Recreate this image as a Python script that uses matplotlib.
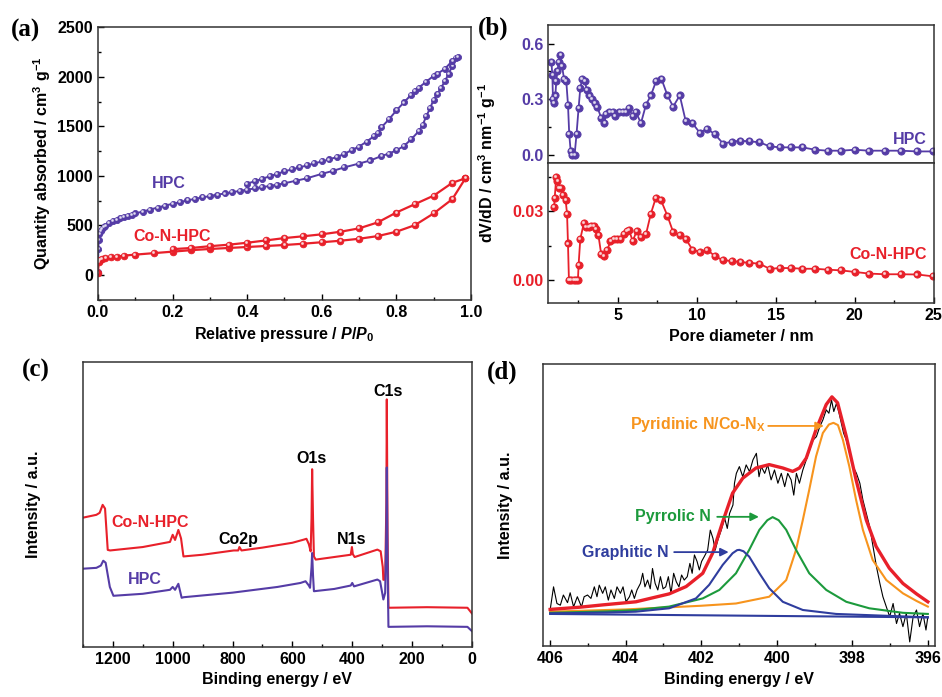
import matplotlib
matplotlib.use("Agg")
import matplotlib.pyplot as plt
import matplotlib.transforms as mtransforms
from matplotlib.ticker import MultipleLocator

plt.rcParams['font.family'] = 'Liberation Sans'
plt.rcParams['font.weight'] = 'bold'
plt.rcParams['axes.labelweight'] = 'bold'
plt.rcParams['mathtext.fontset'] = 'custom'
plt.rcParams['mathtext.rm'] = 'Liberation Sans:bold'
plt.rcParams['mathtext.it'] = 'Liberation Sans:italic:bold'
plt.rcParams['mathtext.bf'] = 'Liberation Sans:bold'
plt.rcParams['mathtext.default'] = 'rm'

PURPLE = '#553ca6'
RED = '#e8202a'

# ---- (a) N2 isotherms ----
hpc_ads_p = [0.0, 0.0005, 0.001, 0.002, 0.004, 0.007, 0.01, 0.015, 0.02, 0.03, 0.04, 0.05,
             0.06, 0.07, 0.08, 0.09, 0.10, 0.12, 0.14, 0.16, 0.18, 0.20, 0.22, 0.24, 0.26,
             0.28, 0.30, 0.32, 0.34, 0.36, 0.38, 0.40, 0.42, 0.44, 0.46, 0.48, 0.50, 0.53,
             0.56, 0.60, 0.63, 0.66, 0.70, 0.73, 0.76, 0.78, 0.80, 0.82, 0.84, 0.86, 0.87,
             0.88, 0.89, 0.90, 0.91, 0.92, 0.93, 0.94, 0.95, 0.96]
hpc_ads_q = [30, 150, 260, 350, 410, 440, 460, 480, 495, 520, 540, 555,
             570, 582, 595, 607, 620, 640, 660, 680, 700, 718, 735, 752, 768,
             782, 796, 810, 822, 835, 848, 860, 873, 885, 898, 910, 925, 950,
             975, 1020, 1050, 1085, 1124, 1155, 1200, 1225, 1258, 1300, 1370, 1450, 1510,
             1600, 1680, 1770, 1830, 1890, 1955, 2030, 2110, 2185]
hpc_des_p = [0.965, 0.95, 0.93, 0.91, 0.90, 0.88, 0.86, 0.85, 0.84, 0.82, 0.80, 0.78, 0.76,
             0.75, 0.74, 0.72, 0.70, 0.68, 0.66, 0.64, 0.62, 0.60, 0.58, 0.56, 0.54, 0.52,
             0.50, 0.48, 0.46, 0.44, 0.42, 0.40]
hpc_des_q = [2195, 2160, 2080, 2030, 2010, 1950, 1890, 1860, 1820, 1740, 1660, 1570, 1490,
             1430, 1400, 1345, 1295, 1260, 1220, 1190, 1165, 1145, 1125, 1105, 1085, 1065,
             1045, 1020, 995, 970, 945, 922]
co_ads_p = [0.0, 0.002, 0.005, 0.01, 0.02, 0.035, 0.05, 0.07, 0.1, 0.15, 0.2, 0.25, 0.3,
            0.35, 0.4, 0.45, 0.5, 0.55, 0.6, 0.65, 0.7, 0.75, 0.8, 0.85, 0.9, 0.95, 0.985]
co_ads_q = [20, 130, 150, 160, 170, 178, 185, 195, 205, 220, 235, 250, 262,
            272, 282, 292, 302, 315, 330, 345, 365, 392, 436, 503, 621, 765, 975]
co_des_p = [0.985, 0.95, 0.9, 0.85, 0.8, 0.75, 0.7, 0.65, 0.6, 0.55, 0.5, 0.45, 0.4, 0.35,
            0.3, 0.25, 0.2]
co_des_q = [975, 930, 800, 715, 630, 530, 470, 436, 410, 390, 372, 348, 325, 305,
            290, 272, 260]

# ---- (b) pore size distributions ----
hpc_d = [0.80, 0.86, 0.90, 0.97, 1.05, 1.11, 1.18, 1.26, 1.37, 1.47, 1.60, 1.74, 1.85, 1.93,
         2.02, 2.12, 2.27, 2.39, 2.52, 2.63, 2.75, 2.90, 3.05, 3.21, 3.36, 3.53, 3.70, 3.95,
         4.16, 4.26, 4.47, 4.68, 4.83, 5.11, 5.32, 5.53, 5.69, 5.95, 6.16, 6.47, 6.79, 7.10,
         7.44, 7.77, 8.15, 8.51, 8.93, 9.31, 9.73, 10.19, 10.67, 11.16, 11.68, 12.21, 12.77,
         13.34, 13.97, 14.62, 15.29, 15.99, 16.70, 17.50, 18.30, 19.12, 20.02, 20.92, 21.91,
         22.92, 23.97, 24.96]
hpc_dv = [0.50, 0.43, 0.30, 0.28, 0.32, 0.40, 0.45, 0.50, 0.54, 0.48, 0.41, 0.40, 0.27, 0.11,
          0.02, 0.00, 0.00, 0.11, 0.25, 0.36, 0.41, 0.40, 0.35, 0.32, 0.30, 0.28, 0.26, 0.20,
          0.17, 0.22, 0.23, 0.23, 0.21, 0.23, 0.23, 0.23, 0.25, 0.21, 0.23, 0.17, 0.27, 0.32,
          0.40, 0.41, 0.32, 0.26, 0.32, 0.18, 0.17, 0.12, 0.14, 0.11, 0.06, 0.07, 0.076,
          0.072, 0.068, 0.045, 0.040, 0.040, 0.040, 0.027, 0.022, 0.022, 0.027, 0.022, 0.022,
          0.022, 0.018, 0.018]
co_d = [0.97, 1.01, 1.11, 1.18, 1.26, 1.39, 1.53, 1.70, 1.79, 1.85, 1.91, 2.06, 2.21, 2.35,
        2.48, 2.52, 2.63, 2.86, 3.00, 3.15, 3.32, 3.47, 3.63, 3.78, 3.95, 4.12, 4.33, 4.54,
        4.75, 4.96, 5.17, 5.38, 5.57, 5.71, 5.95, 6.20, 6.47, 6.79, 7.10, 7.42, 7.73, 8.15,
        8.51, 8.93, 9.31, 9.73, 10.19, 10.67, 11.16, 11.68, 12.21, 12.77, 13.34, 13.97, 14.62,
        15.29, 15.99, 16.70, 17.50, 18.30, 19.12, 20.02, 20.92, 21.91, 22.92, 23.97, 24.96]
co_dv = [0.032, 0.036, 0.045, 0.043, 0.040, 0.040, 0.037, 0.035, 0.029, 0.016, 0.000, 0.000,
         0.000, 0.000, 0.000, 0.0065, 0.018, 0.025, 0.023, 0.023, 0.0235, 0.0235, 0.0225,
         0.0195, 0.0115, 0.0104, 0.013, 0.017, 0.018, 0.018, 0.018, 0.020, 0.0215, 0.022,
         0.017, 0.0215, 0.019, 0.020, 0.029, 0.036, 0.035, 0.028, 0.021, 0.0195, 0.018,
         0.0133, 0.0123, 0.0133, 0.0104, 0.0087, 0.0084, 0.0079, 0.0076, 0.0072, 0.0050,
         0.0053, 0.0053, 0.0050, 0.0050, 0.0046, 0.0043, 0.0036, 0.0029, 0.0026, 0.0026,
         0.0025, 0.0017]

# ---- (c) XPS survey (arbitrary units) ----
co_survey_e = [1300, 1255, 1244, 1234, 1226, 1217, 1209, 1100, 1009, 1000, 992, 981, 972,
               964, 900, 796, 781, 777, 770, 700, 600, 562, 553, 545, 539, 536, 534, 531,
               528, 522, 460, 405, 401, 398, 392, 316, 305, 298, 296, 290, 286, 284.5,
               282, 279, 150, 15, 0]
co_survey_i = [45.3, 46.3, 47.0, 49.8, 48.5, 34.0, 33.8, 35.0, 36.8, 39.3, 37.5, 41.0, 38.0,
               31.7, 32.3, 33.8, 33.8, 35.0, 33.8, 34.8, 36.5, 37.6, 37.9, 36.0, 33.5, 45.0,
               62.3, 45.0, 31.7, 30.6, 31.5, 32.3, 35.0, 32.5, 31.5, 34.1, 33.5, 28.0, 23.5,
               23.6, 50.0, 86.8, 40.0, 13.7, 13.9, 13.7, 11.7]
hpc_survey_e = [1300, 1255, 1240, 1232, 1224, 1210, 1198, 1100, 1009, 1000, 992, 981, 970,
                963, 800, 650, 573, 556, 545, 541, 536, 534, 531, 528, 460, 405, 400, 394,
                316, 307, 300, 296, 290, 286, 284.5, 282, 279, 150, 15, 0]
hpc_survey_i = [27.4, 27.7, 28.5, 30.2, 29.5, 21.0, 17.9, 18.6, 20.0, 21.0, 20.0, 22.1, 17.2,
                17.4, 19.0, 21.0, 22.4, 23.0, 21.5, 20.7, 28.0, 32.9, 25.0, 19.5, 20.3, 21.5,
                22.4, 21.2, 23.6, 23.0, 19.0, 16.6, 18.9, 40.0, 62.9, 30.0, 7.0, 7.2, 7.0, 5.5]

# ---- (d) N1s high resolution ----
n1s_e = [406.00, 405.91, 405.82, 405.73, 405.65, 405.54, 405.47, 405.38, 405.28, 405.17,
         405.10, 405.01, 404.92, 404.83, 404.76, 404.70, 404.61, 404.54, 404.46, 404.39,
         404.30, 404.23, 404.14, 404.07, 403.99, 403.90, 403.84, 403.77, 403.70, 403.61,
         403.55, 403.49, 403.42, 403.35, 403.29, 403.22, 403.15, 403.08, 403.01, 402.94,
         402.87, 402.80, 402.73, 402.66, 402.59, 402.52, 402.45, 402.37, 402.30, 402.24,
         402.18, 402.11, 402.05, 401.99, 401.92, 401.83, 401.76, 401.69, 401.63, 401.56,
         401.47, 401.38, 401.31, 401.25, 401.16, 401.12, 401.07, 400.99, 400.90, 400.81,
         400.72, 400.63, 400.54, 400.47, 400.41, 400.32, 400.24, 400.15, 400.06, 399.97,
         399.88, 399.79, 399.71, 399.62, 399.55, 399.48, 399.40, 399.31, 399.22, 399.13,
         399.04, 398.95, 398.86, 398.78, 398.69, 398.62, 398.55, 398.49, 398.42, 398.35,
         398.29, 398.23, 398.16, 398.07, 397.98, 397.89, 397.80, 397.72, 397.63, 397.54,
         397.45, 397.36, 397.27, 397.19, 397.10, 397.01, 396.92, 396.83, 396.75, 396.66,
         396.57, 396.48, 396.39, 396.30, 396.22, 396.13, 396.05, 396.00]
n1s_raw = [12.8, 21.0, 15.1, 14.5, 18.1, 15.4, 18.9, 13.9, 17.5, 13.9,
           17.5, 18.1, 16.9, 21.0, 17.5, 21.6, 18.7, 21.0, 16.3, 19.9,
           16.9, 21.0, 18.7, 21.0, 15.7, 17.5, 19.9, 16.9, 19.9, 22.2,
           25.8, 21.0, 23.4, 20.3, 27.5, 22.2, 19.9, 24.6, 20.3, 21.0,
           24.6, 18.7, 25.8, 22.8, 21.0, 25.2, 23.4, 24.6, 29.3, 25.8,
           32.3, 30.0, 27.0, 30.0, 31.7, 34.0, 41.1, 38.2, 34.0, 37.6,
           41.1, 45.3, 41.7, 47.0, 50.0, 57.7, 61.2, 63.6, 60.0, 64.2,
           61.8, 66.0, 68.3, 60.0, 63.6, 61.2, 64.2, 58.9, 62.4, 57.7,
           61.2, 56.5, 61.2, 58.9, 53.5, 61.2, 57.7, 62.4, 66.0, 69.5,
           73.0, 74.2, 77.8, 80.1, 83.7, 82.5, 87.2, 83.1, 86.0, 82.5,
           79.0, 75.4, 73.0, 68.3, 63.6, 61.2, 57.7, 51.8, 47.0, 42.3,
           35.2, 28.1, 22.2, 17.5, 13.9, 10.4, 15.1, 8.0, 11.6, 6.9,
           11.6, 1.5, 10.4, 12.8, 6.9, 11.6, 5.7, 10.4]
env_e = [406.0, 405.2, 404.61, 403.73, 402.85, 402.40, 401.96, 401.70, 401.43, 401.17,
         400.90, 400.55, 400.20, 399.84, 399.58, 399.40, 399.22, 398.96, 398.69, 398.54,
         398.39, 398.16, 397.90, 397.63, 397.37, 397.02, 396.66, 396.30, 396.0]
env_i = [13.0, 13.8, 14.6, 15.7, 18.5, 21.1, 25.8, 32.9, 44.1, 54.2,
         59.5, 63.1, 64.3, 63.1, 61.9, 63.1, 66.6, 76.7, 85.6, 88.3,
         86.2, 74.3, 58.9, 44.7, 35.3, 27.6, 22.2, 18.5, 15.7]
pyridinic_e = [406.0, 404.0, 402.0, 401.08, 400.2, 399.75, 399.49, 399.31, 399.14, 398.96,
               398.78, 398.62, 398.5, 398.38, 398.25, 398.08, 397.90, 397.72, 397.46,
               397.10, 396.66, 396.3, 396.0]
pyridinic_i = [12.2, 13.0, 14.3, 15.1, 17.5, 23.4, 34.1, 44.7, 55.4, 67.2,
               75.5, 78.5, 79.1, 78.3, 73.1, 63.7, 51.8, 41.2, 30.5,
               23.4, 18.7, 16.0, 14.0]
pyrrolic_e = [406.0, 404.5, 403.73, 402.85, 401.96, 401.52, 401.08, 400.73, 400.46, 400.25,
              400.11, 399.95, 399.75, 399.49, 399.14, 398.69, 398.16, 397.55, 396.66, 396.0]
pyrrolic_i = [11.8, 12.3, 12.8, 14.0, 16.9, 19.9, 25.8, 34.1, 41.2, 44.6,
              45.7, 44.6, 41.2, 34.1, 25.8, 19.9, 15.7, 13.4, 11.8, 11.4]
graphitic_e = [406.0, 404.5, 403.73, 402.85, 402.14, 401.79, 401.43, 401.17, 401.05, 400.99,
               400.88, 400.73, 400.46, 400.20, 399.84, 399.31, 398.43, 397.0, 396.0]
graphitic_i = [11.6, 11.9, 12.2, 13.4, 16.9, 21.7, 28.8, 32.9, 34.0, 34.1,
               33.6, 31.7, 25.8, 20.5, 15.7, 12.8, 11.4, 10.7, 10.2]
base_e = [406.0, 396.0]
base_i = [11.4, 10.2]


def sphere_line(ax, x, y, color, ms, lw):
    ax.plot(x, y, '-o', color=color, ms=ms, lw=lw, mec=color, mew=0.6)
    off = mtransforms.ScaledTranslation(-0.6 / 72, 0.7 / 72, fig.dpi_scale_trans)
    ax.plot(x, y, 'o', color='white', ms=ms * 0.25, alpha=0.6, lw=0,
            transform=ax.transData + off)


def style_axis(ax):
    ax.tick_params(which='both', direction='in', labelsize=11.5, width=1)
    ax.tick_params(which='major', length=4.5)
    ax.tick_params(which='minor', length=2.5)
    for s in ax.spines.values():
        s.set_linewidth(1.1)
        s.set_color('#333333')


def bold_ticks(ax):
    for lab in ax.get_xticklabels() + ax.get_yticklabels():
        lab.set_fontweight('bold')


fig = plt.figure(figsize=(9.42, 6.97), dpi=100)

# (a)
ax_a = fig.add_axes([0.104, 0.570, 0.396, 0.391])
sphere_line(ax_a, hpc_ads_p, hpc_ads_q, PURPLE, 4.4, 1.4)
sphere_line(ax_a, hpc_des_p, hpc_des_q, PURPLE, 4.4, 1.4)
sphere_line(ax_a, co_ads_p, co_ads_q, RED, 4.8, 1.6)
sphere_line(ax_a, co_des_p, co_des_q, RED, 4.8, 1.6)
ax_a.set_xlim(0, 1.0)
ax_a.set_ylim(-250, 2500)
ax_a.xaxis.set_major_locator(MultipleLocator(0.2))
ax_a.xaxis.set_minor_locator(MultipleLocator(0.1))
ax_a.yaxis.set_major_locator(MultipleLocator(500))
ax_a.yaxis.set_minor_locator(MultipleLocator(250))
ax_a.xaxis.set_major_formatter(lambda v, p: '%.1f' % v)
style_axis(ax_a)
ax_a.set_xlabel('Relative pressure / $\\it{P/P}_{0}$', fontsize=11.5, labelpad=4)
ax_a.set_ylabel('Quantity absorbed / cm$^{3}$ g$^{-1}$', fontsize=11.5, labelpad=3)
ax_a.text(0.19, 920, 'HPC', color=PURPLE, fontsize=11.5, ha='center', va='center')
ax_a.text(0.20, 385, 'Co-N-HPC', color=RED, fontsize=11.5, ha='center', va='center')

# (b)
ax_b1 = fig.add_axes([0.582, 0.766, 0.409, 0.198])
ax_b2 = fig.add_axes([0.582, 0.565, 0.409, 0.201])
sphere_line(ax_b1, hpc_d, hpc_dv, PURPLE, 5.2, 1.3)
sphere_line(ax_b2, co_d, co_dv, RED, 5.2, 1.3)
for ax in (ax_b1, ax_b2):
    ax.set_xlim(0.6, 25)
    ax.xaxis.set_major_locator(MultipleLocator(5))
    ax.xaxis.set_minor_locator(MultipleLocator(2.5))
    style_axis(ax)
ax_b1.set_ylim(-0.045, 0.70)
ax_b1.yaxis.set_major_locator(MultipleLocator(0.3))
ax_b1.yaxis.set_minor_locator(MultipleLocator(0.15))
ax_b1.yaxis.set_major_formatter(lambda v, p: '%.1f' % v)
ax_b1.tick_params(axis='x', which='both', bottom=False, labelbottom=False)
ax_b1.tick_params(axis='y', labelcolor=PURPLE)
ax_b2.set_ylim(-0.010, 0.051)
ax_b2.yaxis.set_major_locator(MultipleLocator(0.03))
ax_b2.yaxis.set_minor_locator(MultipleLocator(0.015))
ax_b2.yaxis.set_major_formatter(lambda v, p: '%.2f' % v)
ax_b2.tick_params(axis='y', labelcolor=RED)
ax_b2.set_xlabel('Pore diameter / nm', fontsize=11.5, labelpad=4)
ax_b1.text(24.6, 0.085, 'HPC', color=PURPLE, fontsize=11.5, ha='right', va='center')
ax_b2.text(24.6, 0.0114, 'Co-N-HPC', color=RED, fontsize=11.5, ha='right', va='center')
fig.text(0.517, 0.766, 'dV/dD / cm$^{3}$ nm$^{-1}$ g$^{-1}$', rotation=90,
         fontsize=11.5, ha='center', va='center')

# (c)
ax_c = fig.add_axes([0.088, 0.072, 0.413, 0.409])
ax_c.plot(co_survey_e, co_survey_i, color=RED, lw=1.5)
ax_c.plot(hpc_survey_e, hpc_survey_i, color=PURPLE, lw=1.5)
ax_c.set_xlim(1300, 0)
ax_c.set_ylim(0, 100)
ax_c.xaxis.set_major_locator(MultipleLocator(200))
ax_c.xaxis.set_minor_locator(MultipleLocator(100))
ax_c.set_yticks([])
style_axis(ax_c)
ax_c.set_xlabel('Binding energy / eV', fontsize=11.5, labelpad=4)
ax_c.set_ylabel('Intensity / a.u.', fontsize=11.5, labelpad=30)
ax_c.text(280, 89.5, 'C1s', fontsize=11.5, ha='center', va='center')
ax_c.text(537, 65.9, 'O1s', fontsize=11.5, ha='center', va='center')
ax_c.text(402, 37.6, 'N1s', fontsize=11.5, ha='center', va='center')
ax_c.text(781, 37.6, 'Co2p', fontsize=11.5, ha='center', va='center')
ax_c.text(1075, 43.6, 'Co-N-HPC', color=RED, fontsize=11.5, ha='center', va='center')
ax_c.text(1092, 23.6, 'HPC', color=PURPLE, fontsize=11.5, ha='center', va='center')

# (d)
ORANGE = '#f7941d'
GREEN = '#1c9a3c'
BLUE = '#2f3d9e'
ax_d = fig.add_axes([0.576, 0.073, 0.417, 0.405])
ax_d.plot(n1s_e, n1s_raw, color='black', lw=0.8)
ax_d.plot(base_e, base_i, color=BLUE, lw=1.5)
ax_d.plot(pyridinic_e, pyridinic_i, color=ORANGE, lw=1.5)
ax_d.plot(pyrrolic_e, pyrrolic_i, color=GREEN, lw=1.5)
ax_d.plot(graphitic_e, graphitic_i, color=BLUE, lw=1.5)
ax_d.plot(env_e, env_i, color=RED, lw=2.4)
ax_d.set_xlim(406.2, 395.8)
ax_d.set_ylim(0, 100)
ax_d.xaxis.set_major_locator(MultipleLocator(2))
ax_d.xaxis.set_minor_locator(MultipleLocator(1))
ax_d.set_yticks([])
style_axis(ax_d)
ax_d.set_xlabel('Binding energy / eV', fontsize=11.5, labelpad=4)
ax_d.set_ylabel('Intensity / a.u.', fontsize=11.5, labelpad=21)
arrow = dict(arrowstyle='-|>', lw=1.3, mutation_scale=12)
ax_d.annotate('', xy=(398.68, 78.0), xytext=(400.3, 78.0),
              arrowprops=dict(arrow, color=ORANGE))
ax_d.text(400.3, 78.5, 'Pyridinic N/Co-N$_\\mathrm{X}$', color=ORANGE, fontsize=11.5,
          ha='right', va='center')
ax_d.annotate('', xy=(400.40, 45.8), xytext=(401.65, 45.8),
              arrowprops=dict(arrow, color=GREEN))
ax_d.text(401.75, 45.8, 'Pyrrolic N', color=GREEN, fontsize=11.5, ha='right', va='center')
ax_d.annotate('', xy=(401.2, 33.3), xytext=(402.79, 33.3),
              arrowprops=dict(arrow, color=BLUE))
ax_d.text(402.85, 33.3, 'Graphitic N', color=BLUE, fontsize=11.5, ha='right', va='center')

for ax in (ax_a, ax_b1, ax_b2, ax_c, ax_d):
    bold_ticks(ax)

# panel letters
for x, y, s in [(0.012, 0.957, '(a)'), (0.507, 0.960, '(b)'),
                (0.023, 0.469, '(c)'), (0.517, 0.466, '(d)')]:
    fig.text(x, y, s, family='Liberation Serif', fontsize=18, weight='bold',
             ha='left', va='center')

fig.savefig('out.png', dpi=100)
